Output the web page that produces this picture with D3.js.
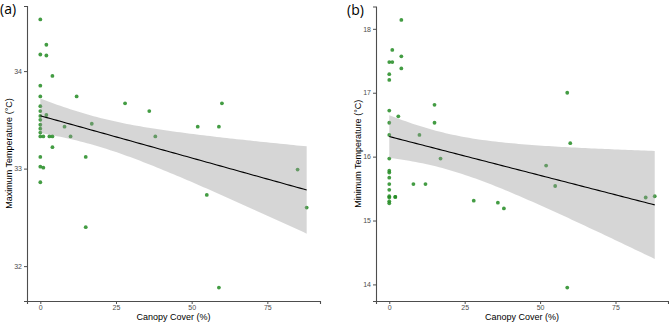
<!DOCTYPE html>
<html><head><meta charset="utf-8">
<script src="https://cdn.jsdelivr.net/npm/d3@7"></script>
<style>body{margin:0;background:#fff}svg{display:block}</style>
</head><body>
<script>
// Panel (a): canopy cover (%) vs maximum temperature (°C)
const canopyA = [0,0,0,0,0,0,0,0,0,0,0,0,0,0,0, 1,1, 2,2,2, 3, 4,4,4, 8,10,12,15,15,17,28,36,38,52,55,59,59,60,85,88];
const tmaxA   = [34.53,34.17,33.85,33.74,33.64,33.59,33.54,33.50,33.45,33.41,33.37,33.33,33.12,33.02,32.86,
                 33.33,33.01, 34.27,34.16,33.55, 33.33, 33.95,33.33,33.22,
                 33.43,33.33,33.74,33.12,32.40,33.46,33.67,33.59,33.33,33.43,32.73,33.43,31.78,33.67,32.99,32.60];
// Panel (b): canopy cover (%) vs minimum temperature (°C)
const canopyB = [0,0,0,0,0,0,0,0,0,0,0,0,0,0,0,0, 1,1, 2,2, 3, 4,4,4, 8,10,12,15,15,17,28,36,38,52,55,59,59,60,85,88];
const tminB   = [17.48,17.29,17.20,16.72,16.53,16.34,15.97,15.78,15.75,15.67,15.57,15.48,15.38,15.36,15.30,15.27,
                 17.67,17.48, 15.37,15.37, 16.63, 18.14,17.57,17.38,
                 15.57,16.34,15.57,16.81,16.53,15.97,15.31,15.28,15.19,15.86,15.54,17.00,13.95,16.21,15.36,15.38];
const xTicks = [0,25,50,75];
const yTicksA = [32,33,34];
const yTicksB = [14,15,16,17,18];
const xTitle = "Canopy Cover (%)";
const yTitleA = "Maximum Temperature (°C)";
const yTitleB = "Minimum Temperature (°C)";

const W = 669, H = 323;
const svg = d3.select("body").append("svg").attr("width", W).attr("height", H)
  .style("font-family", "'Liberation Sans', Arial, sans-serif");

function expandExtent(arr){
  const [a,b] = d3.extent(arr); const e = (b-a)*0.05; return [a-e, b+e];
}
// t quantile 0.975 for df = 38
const T975 = 2.024;
function fit(xs, ys){
  const n = xs.length, mx = d3.mean(xs), my = d3.mean(ys);
  let sxx=0, sxy=0; for(let i=0;i<n;i++){sxx+=(xs[i]-mx)**2; sxy+=(xs[i]-mx)*(ys[i]-my);}
  const b = sxy/sxx, a = my - b*mx;
  let sse=0; for(let i=0;i<n;i++){sse+=(ys[i]-a-b*xs[i])**2;}
  const s = Math.sqrt(sse/(n-2));
  return {a,b,pred:x=>a+b*x,se:x=>s*Math.sqrt(1/n+(x-mx)**2/sxx)};
}

function panel(cfg){
  const {left,right,top,bottom,xs,ys,yTicks,yTitle,label,titleX,labelX,labelY} = cfg;
  const g = svg.append("g");
  const x = d3.scaleLinear().domain(expandExtent(xs)).range([left,right]);
  const y = d3.scaleLinear().domain(expandExtent(ys)).range([bottom,top]);

  // points
  g.append("g").selectAll("circle").data(xs.map((v,i)=>[v,ys[i]])).join("circle")
    .attr("cx",d=>x(d[0])).attr("cy",d=>y(d[1])).attr("r",1.9)
    .attr("fill","#228B22").attr("fill-opacity",0.85);

  // regression band + line
  const m = fit(xs, ys);
  const [x0,x1] = d3.extent(xs);
  const grid = d3.range(0,81).map(i=>x0+(x1-x0)*i/80);
  const area = d3.area().x(d=>x(d)).y0(d=>y(m.pred(d)-T975*m.se(d))).y1(d=>y(m.pred(d)+T975*m.se(d)));
  g.append("path").datum(grid).attr("d",area).attr("fill","#999999").attr("fill-opacity",0.4);
  g.append("path").datum(grid).attr("d",d3.line().x(d=>x(d)).y(d=>y(m.pred(d))))
    .attr("fill","none").attr("stroke","#000").attr("stroke-width",1.1);

  // axes
  const ax = g.append("g").attr("transform",`translate(0,${bottom})`)
    .call(d3.axisBottom(x).tickValues(xTicks).tickFormat(d3.format("d")).tickSize(3).tickPadding(1.5));
  const ay = g.append("g").attr("transform",`translate(${left},0)`)
    .call(d3.axisLeft(y).tickValues(yTicks).tickFormat(d3.format("d")).tickSize(3).tickPadding(2));
  [ax,ay].forEach(a=>{
    a.select(".domain").attr("stroke","#4d4d4d").attr("stroke-width",1.1);
    a.selectAll(".tick line").attr("stroke","#4d4d4d");
    a.selectAll(".tick text").attr("fill","#4d4d4d").style("font-size","7px");
  });
  // titles
  g.append("text").attr("x",(left+right)/2).attr("y",319.5).attr("text-anchor","middle")
    .style("font-size","9px").attr("fill","#000").text(xTitle);
  g.append("text").attr("transform",`translate(${titleX},${(top+bottom)/2}) rotate(-90)`)
    .attr("text-anchor","middle").attr("dy","0.35em").style("font-size","9px").attr("fill","#000").text(yTitle);
  g.append("text").attr("x",labelX).attr("y",labelY).style("font-size","14px")
    .style("font-family","'Open Sans', 'Liberation Sans', sans-serif").attr("fill","#000").text(label);
}

panel({left:27,right:320,top:6,bottom:301,xs:canopyA,ys:tmaxA,yTicks:yTicksA,yTitle:yTitleA,label:"(a)",titleX:8.5,labelX:0,labelY:14});
panel({left:376,right:668,top:6.5,bottom:301,xs:canopyB,ys:tminB,yTicks:yTicksB,yTitle:yTitleB,label:"(b)",titleX:358,labelX:347,labelY:15});
</script>
</body></html>
